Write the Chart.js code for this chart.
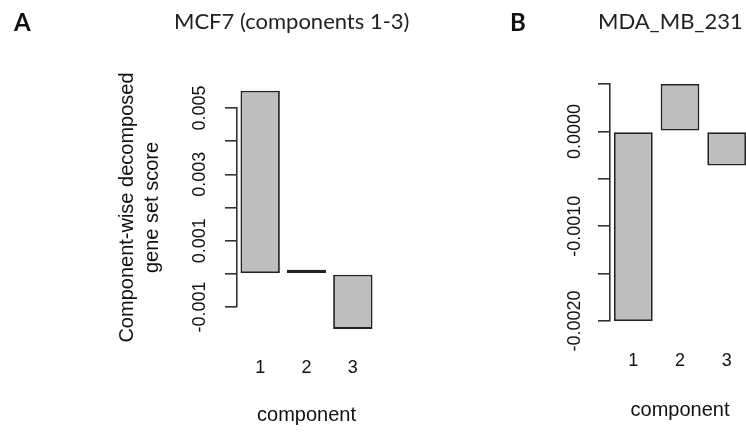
<!DOCTYPE html>
<html>
<head>
<meta charset="utf-8">
<script src="https://cdn.jsdelivr.net/npm/chart.js@4.4.1/dist/chart.umd.min.js"></script>
<style>
  html, body { margin: 0; padding: 0; background: #fff; width: 746px; height: 432px; overflow: hidden; position: relative; }
  canvas { position: absolute; top: 0; }
  .letter { position: absolute; font: bold 24px Lato, sans-serif; color: #111; line-height: 1; }
  .title  { position: absolute; font: 22px Lato, sans-serif; color: #222; line-height: 1; white-space: nowrap; }
</style>
</head>
<body>
<canvas id="chartA" width="420" height="432" style="left:0"></canvas>
<canvas id="chartB" width="380" height="432" style="left:390px"></canvas>
<div class="letter" style="left:14px;top:10px">A</div>
<div class="title" style="left:174px;top:10px">MCF7 (components 1-3)</div>
<div class="letter" style="left:510px;top:10px">B</div>
<div class="title" style="left:598px;top:10px">MDA_MB_231</div>

<script>
const categories = ['1', '2', '3']
const mcf7Scores = [0.00552, 0.00003, -0.00166]
const mdaScores  = [-0.00200, 0.00050, -0.00036]
const mcf7TickLabels = [-0.001, 0.001, 0.003, 0.005]
const mdaTickLabels  = [-0.0020, -0.0010, 0.0000]

const FONT = '"Liberation Sans", Arial, sans-serif'
const INK  = '#111'
const AXIS = '#333'

// R draws y tick labels parallel to the axis; Chart.js can't rotate them, so do it here
const rotatedTicks = {
  id: 'rotatedTicks',
  afterDraw(chart, args, opts) {
    const y = chart.scales.y, ctx = chart.ctx
    ctx.save()
    ctx.font = `18px ${FONT}`
    ctx.fillStyle = INK
    ctx.textAlign = 'center'
    ctx.textBaseline = 'middle'
    opts.values.forEach(v => {
      ctx.save()
      ctx.translate(y.right - opts.offset, y.getPixelForValue(v))
      ctx.rotate(-Math.PI / 2)
      ctx.fillText(v.toFixed(opts.digits), 0, 0)
      ctx.restore()
    })
    ctx.restore()
  }
}

function barChart(id, scores, o) {
  return new Chart(document.getElementById(id), {
    type: 'bar',
    data: {
      labels: categories,
      datasets: [{
        data: scores,
        backgroundColor: '#BEBEBE',
        borderColor: '#222',
        borderWidth: 1.8,
        borderSkipped: false,
        minBarLength: 4,   // near-zero bar still shows as a black line, like R
        clip: false,
        barPercentage: 1,
        categoryPercentage: o.catPct
      }]
    },
    options: {
      responsive: false,
      animation: false,
      layout: { padding: { left: 0, top: o.top, right: o.right, bottom: 0 } },
      plugins: {
        legend: { display: false },
        tooltip: { enabled: false },
        rotatedTicks: { values: o.tickLabels, digits: o.digits, offset: o.labelOffset }
      },
      scales: {
        x: {
          offset: true,
          grid: { display: false, drawTicks: false },
          border: { display: false },
          ticks: { color: INK, font: { family: FONT, size: 18 }, padding: o.xPad, maxRotation: 0 },
          title: { display: true, text: 'component', color: INK, font: { family: FONT, size: 20 }, padding: { top: 0, bottom: o.xTitlePad } },
          afterFit: s => { s.height = o.xHeight }
        },
        y: {
          min: o.min, max: o.max,
          ticks: { stepSize: o.step, autoSkip: false, callback: () => '' },
          grid: { drawOnChartArea: false, drawTicks: true, tickLength: 12, color: AXIS, lineWidth: 1.6 },
          border: { color: AXIS, width: 1.6 },
          title: o.yTitle
            ? { display: true, text: o.yTitle, color: INK, font: { family: FONT, size: 20, lineHeight: 1.25 }, padding: { top: 114.5, bottom: 0 } }
            : { display: false },
          afterFit: s => { s.width = o.yWidth }
        }
      }
    },
    plugins: [rotatedTicks]
  })
}

barChart('chartA', mcf7Scores, {
  top: 108, right: 44, yWidth: 237, xHeight: 125, xPad: 50, xTitlePad: 5,
  min: -0.001, max: 0.005, step: 0.001, catPct: 0.85,
  tickLabels: mcf7TickLabels, digits: 3, labelOffset: 37,
  yTitle: ['Component-wise decomposed', 'gene set score']
})

barChart('chartB', mdaScores, {
  top: 84, right: 20, yWidth: 220, xHeight: 111, xPad: 29, xTitlePad: 10,
  min: -0.002, max: 0.0005, step: 0.0005, catPct: 0.83,
  tickLabels: mdaTickLabels, digits: 4, labelOffset: 35,
  yTitle: null
})
</script>
</body>
</html>
